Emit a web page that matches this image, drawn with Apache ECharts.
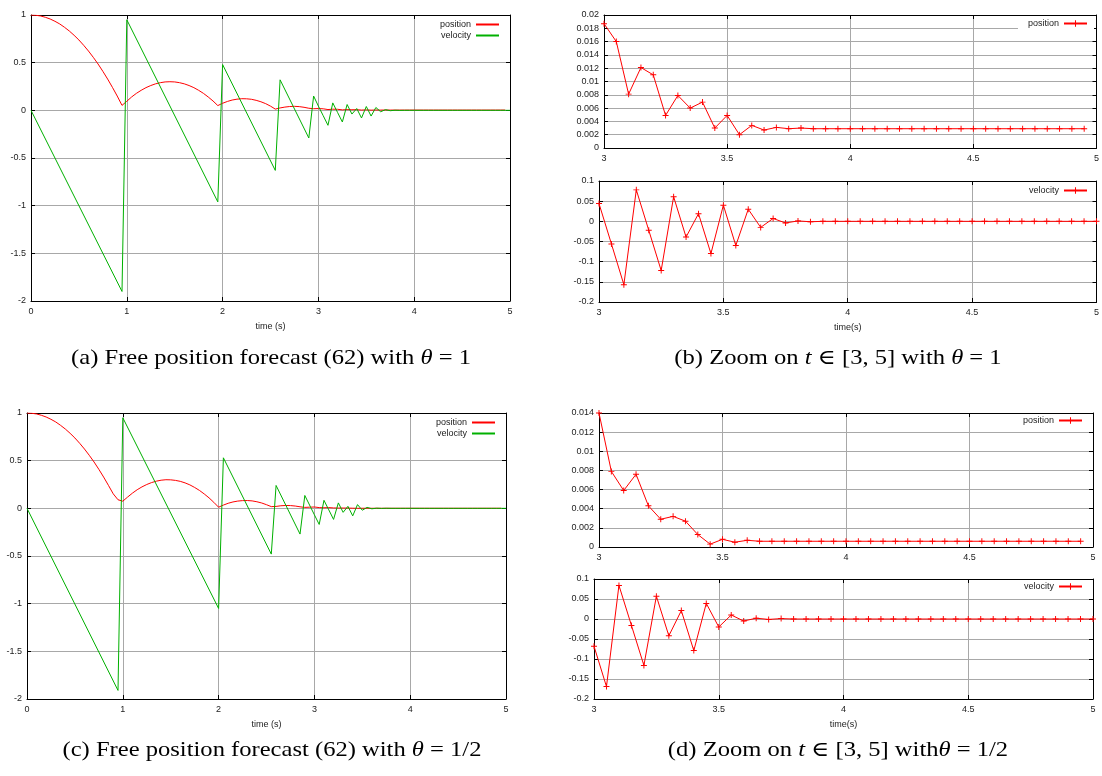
<!DOCTYPE html>
<html><head><meta charset="utf-8">
<script src="https://cdn.jsdelivr.net/npm/echarts@6/dist/echarts.min.js"></script>
<style>html,body{margin:0;padding:0;background:#fff;} #c{width:1102px;height:776px;}</style>
</head><body><div id="c"></div>
<script>
// ---------------- data ----------------
const tHead = [0.00,0.05,0.10,0.15,0.20,0.25,0.30,0.35,0.40,0.45,0.50,0.55,0.60,0.65,0.70,0.75,0.80,0.85,0.90,0.95,
  1.00,1.05,1.10,1.15,1.20,1.25,1.30,1.35,1.40,1.45,1.50,1.55,1.60,1.65,1.70,1.75,1.80,1.85,1.90,1.95,
  2.00,2.05,2.10,2.15,2.20,2.25,2.30,2.35,2.40,2.45,2.50,2.55,2.60,2.65,2.70,2.75,2.80,2.85,2.90,2.95];
const tZoom = [3.00,3.05,3.10,3.15,3.20,3.25,3.30,3.35,3.40,3.45,3.50,3.55,3.60,3.65,3.70,3.75,3.80,3.85,3.90,3.95,
  4.00,4.05,4.10,4.15,4.20,4.25,4.30,4.35,4.40,4.45,4.50,4.55,4.60,4.65,4.70,4.75,4.80,4.85,4.90,4.95,5.00];

// theta = 1
const posAHead = [1.000,0.997,0.990,0.976,0.958,0.934,0.906,0.871,0.832,0.787,0.738,0.682,0.622,0.556,0.486,0.409,0.328,0.241,0.150,0.052,
  0.095,0.140,0.178,0.210,0.238,0.260,0.278,0.290,0.298,0.300,0.298,0.290,0.278,0.260,0.238,0.210,0.178,0.140,0.098,0.050,
  0.074,0.093,0.108,0.117,0.122,0.121,0.116,0.105,0.090,0.070,0.044,0.013,
  0.025,0.034,0.040,0.042,0.039,0.032,0.022,0.017];
const velAKnots = [[0,0],[0.95,-1.9],[1.0,0.95],[1.95,-0.96],[2.0,0.48],[2.55,-0.63],[2.6,0.32],[2.9,-0.29],[2.95,0.15]];
const posB = [0.0187,0.0160,0.0081,0.0121,0.0110,0.0049,0.0079,0.0060,0.0069,0.0030,0.0049,0.0020,0.0034,0.0027,0.0031,0.0029,0.0030,
  0.0029,0.0029,0.0029,0.0029,0.0029,0.0029,0.0029,0.0029,0.0029,0.0029,0.0029,0.0029,0.0029,0.0029,0.0029,0.0029,0.0029,0.0029,0.0029,0.0029,0.0029,0.0029,0.0029];
const velB = [0.044,-0.056,-0.157,0.078,-0.022,-0.122,0.061,-0.039,0.019,-0.080,0.040,-0.060,0.030,-0.015,0.007,-0.004,0.001,-0.001,
  0,0,0,0,0,0,0,0,0,0,0,0,0,0,0,0,0,0,0,0,0,0,0];

// theta = 1/2
const posCHead = [1.000,0.997,0.990,0.976,0.958,0.934,0.906,0.871,0.832,0.787,0.738,0.682,0.622,0.556,0.486,0.409,0.328,0.241,0.152,0.090,
  0.075,0.118,0.159,0.195,0.225,0.250,0.270,0.285,0.295,0.300,0.299,0.293,0.283,0.267,0.246,0.219,0.188,0.151,0.110,0.063,
  0.012,0.034,0.053,0.067,0.076,0.081,0.082,0.078,0.069,0.056,0.038,0.018,
  0.020,0.027,0.030,0.029,0.024,0.016,0.010,0.012];
const velCKnots = [[0,0],[0.95,-1.91],[1.0,0.95],[2.0,-1.05],[2.05,0.53],[2.55,-0.48],[2.6,0.24],[2.85,-0.27],[2.9,0.135]];
const posD = [0.0140,0.0079,0.0059,0.0076,0.0043,0.0029,0.0032,0.0027,0.0013,0.0003,0.0008,0.0005,0.0007,
  0.0006,0.0006,0.0006,0.0006,0.0006,0.0006,0.0006,0.0006,0.0006,0.0006,0.0006,0.0006,0.0006,0.0006,0.0006,0.0006,0.0006,0.0006,0.0006,0.0006,0.0006,0.0006,0.0006,0.0006,0.0006,0.0006,0.0006];
const velD = [-0.068,-0.169,0.084,-0.016,-0.116,0.057,-0.042,0.021,-0.079,0.039,-0.020,0.010,-0.005,0.002,-0.001,0.001,
  0,0,0,0,0,0,0,0,0,0,0,0,0,0,0,0,0,0,0,0,0,0,0,0,0];

const captions = [
  '(a) Free position forecast (62) with {i|θ} = 1',
  '(b) Zoom on {i|t} ∈ [3, 5] with {i|θ} = 1',
  '(c) Free position forecast (62) with {i|θ} = 1/2',
  '(d) Zoom on {i|t} ∈ [3, 5] with{i|θ} = 1/2'
];
const legendLabels = {posA:'position', velA:'velocity', posB:'position', velB:'velocity',
  posC:'position', velC:'velocity', posD:'position', velD:'velocity'};

// ---------------- layout / style ----------------
const RED = '#ff0000', GREEN = '#00b000', GRIDC = '#a8a8a8', TXT = '#222';
const FONT = '"Liberation Sans", Arial, sans-serif';
const SERIF = '"Liberation Serif", "DejaVu Serif", serif';
const PLUS = 'path://M0,4.2H10V5.8H0Z M4.2,0H5.8V10H4.2Z';

const grids = [
  {left:31,  top:15,  width:479, height:286},
  {left:604, top:15,  width:494, height:133},
  {left:599, top:181, width:499, height:121},
  {left:27,  top:413, width:479, height:286},
  {left:599, top:413, width:494, height:134},
  {left:594, top:579, width:499, height:120}
];
const xAxes = [], yAxes = [];
function addAxes(g, xmin, xmax, xint, ymin, ymax, yint, xname) {
  const tick = {show:true, inside:true, length:4, lineStyle:{color:'#000', width:1}};
  const line = {show:true, onZero:false, lineStyle:{color:'#000', width:1}};
  xAxes.push({type:'value', gridIndex:g, position:'bottom', min:xmin, max:xmax, interval:xint,
    name:xname || '', nameLocation:'middle', nameGap:21,
    nameTextStyle:{fontSize:9, color:TXT, fontFamily:FONT},
    axisLine:line, axisTick:tick,
    axisLabel:{fontSize:9, color:TXT, margin:6, fontFamily:FONT},
    splitLine:{show:true, showMinLine:false, showMaxLine:false, lineStyle:{color:GRIDC, width:1}}});
  xAxes.push({type:'value', gridIndex:g, position:'top', min:xmin, max:xmax, interval:xint,
    axisLine:line, axisTick:tick, axisLabel:{show:false}, splitLine:{show:false}});
  yAxes.push({type:'value', gridIndex:g, position:'left', min:ymin, max:ymax, interval:yint,
    axisLine:line, axisTick:tick,
    axisLabel:{fontSize:9, color:TXT, margin:5, fontFamily:FONT},
    splitLine:{show:true, showMinLine:false, showMaxLine:false, lineStyle:{color:GRIDC, width:1}}});
  yAxes.push({type:'value', gridIndex:g, position:'right', min:ymin, max:ymax, interval:yint,
    axisLine:line, axisTick:tick, axisLabel:{show:false}, splitLine:{show:false}});
}
addAxes(0, 0, 5, 1, -2, 1, 0.5, 'time (s)');
addAxes(1, 3, 5, 0.5, 0, 0.02, 0.002, '');
addAxes(2, 3, 5, 0.5, -0.2, 0.1, 0.05, 'time(s)');
addAxes(3, 0, 5, 1, -2, 1, 0.5, 'time (s)');
addAxes(4, 3, 5, 0.5, 0, 0.014, 0.002, '');
addAxes(5, 3, 5, 0.5, -0.2, 0.1, 0.05, 'time(s)');

const pairs = (ts, vs) => ts.map((t, i) => [t, vs[i]]);

function lineSeries(name, g, data, color, marks) {
  return {type:'line', name:name, xAxisIndex:2*g, yAxisIndex:2*g, data:data,
    symbol: marks ? PLUS : 'none', symbolSize:6, showSymbol:!!marks,
    itemStyle:{color:color}, lineStyle:{color:color, width:1},
    animation:false, silent:true, z:3};
}
const series = [
  lineSeries('posA', 0, pairs(tHead, posAHead).concat(pairs(tZoom, posB)), RED, false),
  lineSeries('velA', 0, velAKnots.concat(pairs(tZoom, velB)), GREEN, false),
  lineSeries('posB', 1, pairs(tZoom, posB), RED, true),
  lineSeries('velB', 2, pairs(tZoom, velB), RED, true),
  lineSeries('posC', 3, pairs(tHead, posCHead).concat(pairs(tZoom, posD)), RED, false),
  lineSeries('velC', 3, velCKnots.concat(pairs(tZoom, velD)), GREEN, false),
  lineSeries('posD', 4, pairs(tZoom, posD), RED, true),
  lineSeries('velD', 5, pairs(tZoom, velD), RED, true)
];

function legend(names, right, top, plain, pad) {
  const o = {data:names, orient:'vertical', align:'right', right:right, top:top,
    itemWidth:23, itemHeight:8, itemGap:2, padding:pad, backgroundColor:'#fff',
    selectedMode:false, formatter: n => legendLabels[n],
    textStyle:{fontSize:9, color:TXT, fontFamily:FONT}};
  if (plain) o.itemStyle = {opacity:0};
  return o;
}
const legends = [
  legend(['posA','velA'], 599, 18, true, [2,3,2,8]),
  legend(['posB'], 8, 16, false, [3,6,3,10]),
  legend(['velB'], 8, 184, false, [2,6,2,10]),
  legend(['posC','velC'], 603, 416, true, [2,3,2,8]),
  legend(['posD'], 13, 414, false, [2,6,2,10]),
  legend(['velD'], 13, 580, false, [2,6,2,10])
];

const capPos = [[271, 358], [838, 358], [272, 750], [838, 750]];
const graphic = captions.map((c, i) => ({
  type:'text', x:capPos[i][0], y:capPos[i][1], scaleX:1.17, silent:true,
  style:{text:c, fontSize:21, fontFamily:SERIF, fill:'#000',
    align:'center', verticalAlign:'middle',
    rich:{i:{fontStyle:'italic', fontSize:21, fontFamily:SERIF}}}
}));

const chart = echarts.init(document.getElementById('c'), null, {renderer:'canvas'});
chart.setOption({
  animation:false,
  backgroundColor:'#fff',
  grid: grids,
  xAxis: xAxes,
  yAxis: yAxes,
  legend: legends,
  series: series,
  graphic: graphic
});
</script></body></html>
